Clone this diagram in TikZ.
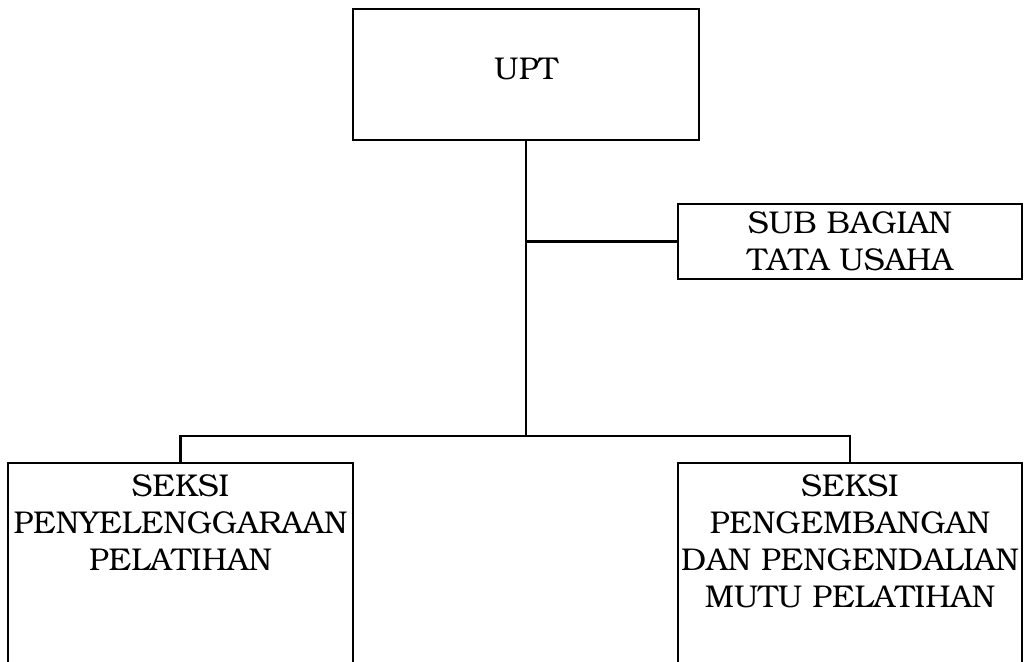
\documentclass[tikz,border=0pt]{standalone}
\usepackage[T1]{fontenc}
\usepackage{bookman}
\usetikzlibrary{positioning}

\tikzset{
  unitbox/.style={draw, line width=1.2pt, align=center, minimum width=8.625cm,
    inner sep=0pt, font=\fontsize{22.4}{26.3}\selectfont},
  topbox/.style={unitbox, anchor=north, inner ysep=0.3cm, text depth=6cm},
  link/.style={line width=1.8pt}
}

\begin{document}
\begin{tikzpicture}[x=0.025cm, y=-0.025cm]
  \useasboundingbox (0,0) rectangle (1027,662);

  % Draw the units
  \node[unitbox, minimum width=8.65cm, minimum height=3.275cm, text depth=0.3cm] (upt) at (526,74.5) {UPT};
  \node[unitbox, minimum width=8.6cm, minimum height=1.875cm] (tu) at (850,241.5) {SUB BAGIAN\\TATA USAHA};
  \node[topbox] (sp) at (180.5,462) {SEKSI\\PENYELENGGARAAN\\PELATIHAN};
  \node[topbox, minimum width=8.6cm] (pp) at (850,462) {SEKSI\\PENGEMBANGAN\\DAN PENGENDALIAN\\MUTU PELATIHAN};

  % Define the branch point
  \coordinate (split) at (526,436);

  % Draw the lines between the units
  \draw[link] (upt.south) -- (split);
  \draw[link] (upt.south |- tu.west) -- (tu.west);
  \draw[link] (sp.north) |- (split) -| (pp.north);
\end{tikzpicture}
\end{document}
